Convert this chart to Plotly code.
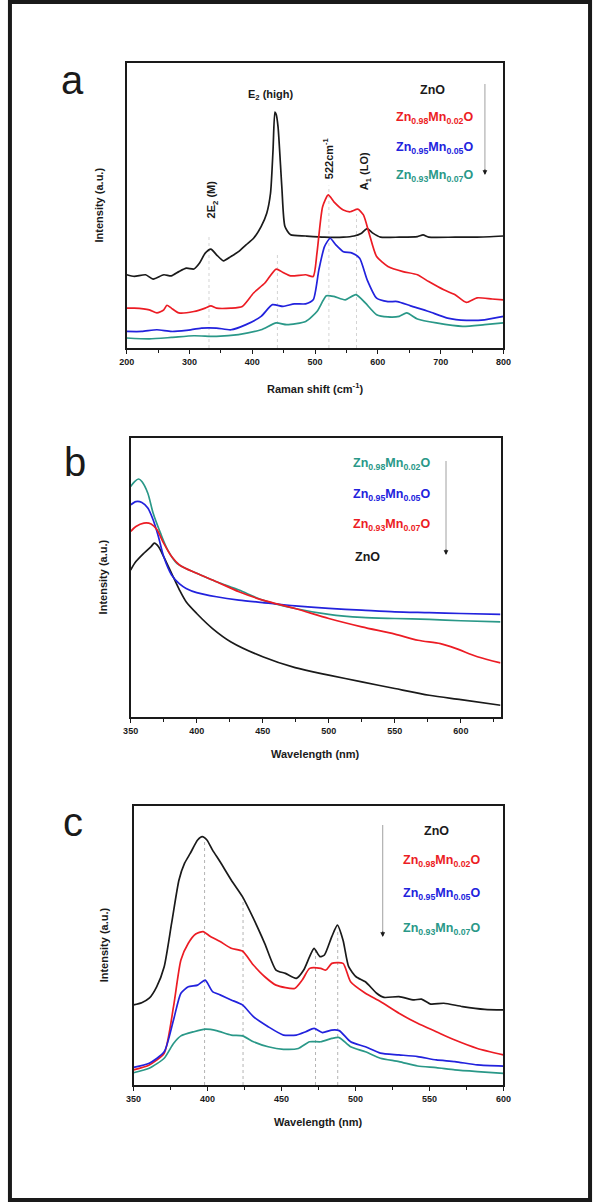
import plotly.graph_objects as go

W, H = 600, 1202

# ---------------- Panel a: Raman ----------------
raman_x_zno = [200, 212, 230, 242, 259, 271, 283, 295, 307, 316, 325, 334, 343, 354, 366, 378, 390, 402, 414, 423, 429, 433, 436, 438, 441, 447, 452, 461, 485, 515, 545, 562, 574, 583, 592, 604, 634, 663, 672, 681, 723, 758, 800]
raman_y_zno = [25.7, 25.1, 25.7, 24.2, 25.7, 25.3, 26.8, 28.0, 27.7, 29.8, 33.3, 34.7, 32.7, 30.6, 32.1, 33.8, 36.2, 38.5, 42.6, 47.3, 54.3, 69.4, 82.8, 82.0, 77.6, 56.6, 42.6, 39.7, 39.3, 38.9, 38.9, 39.3, 40.3, 41.9, 40.3, 38.9, 38.9, 39.1, 39.7, 38.9, 38.9, 38.9, 39.3]
raman_x_mn02 = [200, 212, 236, 248, 259, 264, 271, 283, 307, 325, 334, 343, 366, 384, 402, 420, 438, 449, 461, 485, 497, 503, 512, 521, 530, 545, 556, 568, 577, 586, 598, 616, 640, 663, 681, 705, 723, 741, 758, 782, 800]
raman_y_mn02 = [14.0, 14.0, 13.4, 12.3, 13.4, 15.0, 14.0, 12.3, 12.8, 14.0, 14.8, 14.0, 14.0, 14.6, 19.3, 22.8, 27.7, 26.5, 25.3, 25.7, 25.1, 33.3, 49.6, 53.7, 51.3, 48.4, 47.8, 48.7, 46.7, 40.3, 32.1, 28.6, 26.8, 25.7, 23.3, 20.4, 18.7, 16.0, 17.6, 17.2, 16.9]
raman_x_mn05 = [200, 224, 248, 271, 295, 319, 343, 366, 390, 414, 432, 449, 467, 485, 497, 506, 515, 524, 533, 545, 559, 571, 583, 598, 616, 631, 652, 681, 711, 741, 770, 800]
raman_y_mn05 = [5.8, 5.8, 6.4, 5.8, 6.2, 7.0, 7.0, 6.4, 8.2, 11.1, 15.2, 14.6, 15.5, 15.5, 16.9, 27.4, 35.6, 38.5, 36.2, 33.8, 33.3, 31.5, 23.9, 17.5, 16.3, 16.3, 14.8, 12.8, 10.5, 9.7, 9.9, 11.1]
raman_x_mn07 = [200, 236, 271, 307, 343, 378, 414, 438, 455, 485, 503, 518, 530, 548, 565, 580, 598, 616, 634, 646, 663, 693, 735, 770, 800]
raman_y_mn07 = [3.5, 3.2, 3.7, 4.3, 4.1, 4.7, 6.4, 8.8, 8.2, 9.3, 12.8, 18.3, 18.1, 16.9, 18.7, 15.8, 11.7, 10.9, 11.1, 12.3, 10.2, 8.8, 7.6, 8.2, 8.8]
raman_lines_x = [331, 440, 522, 566]
raman_lines_top = [40, 33, 57, 47]

# ---------------- Panel b: absorption ----------------
abs_x = [350, 354, 360, 365.5, 368, 371, 375, 381, 387, 392, 400, 412, 426, 450, 474.5, 500, 525, 550, 576, 600, 630]
abs_y_zno = [52.7, 55.7, 58.7, 61.1, 62.3, 61.1, 57.5, 51.5, 45.5, 41.3, 37.1, 31.7, 26.9, 21.6, 17.7, 15.0, 12.6, 10.2, 7.8, 6.2, 4.2]
abs_x_mn02 = [350, 353, 356, 358.5, 363, 367, 372.6, 378, 385, 400, 415, 432, 450, 474.5, 500, 525, 550, 576, 600, 630]
abs_y_mn02 = [82.6, 84.4, 85.3, 84.4, 80.2, 73.1, 65.9, 59.9, 55.1, 51.5, 48.5, 45.5, 41.9, 38.9, 36.8, 35.7, 35.3, 35.0, 34.5, 34.1]
abs_x_mn05 = [350, 354, 358.5, 363, 367, 371, 375, 381, 387, 392, 400, 415, 432, 450, 474.5, 500, 525, 550, 576, 600, 630]
abs_y_mn05 = [76.0, 77.2, 76.9, 74.9, 70.7, 64.7, 57.5, 50.9, 47.7, 46.1, 44.6, 43.1, 41.9, 41.0, 39.8, 38.9, 38.3, 37.7, 37.4, 37.1, 36.8]
abs_x_mn07 = [350, 354, 360, 365.5, 370, 375, 381, 387, 400, 415, 432, 450, 474.5, 500, 525, 550, 567.5, 584.5, 596, 612.5, 630]
abs_y_mn07 = [66.5, 68.3, 69.5, 69.2, 67.1, 62.3, 57.5, 54.5, 51.5, 48.5, 44.9, 41.9, 38.9, 35.3, 32.3, 29.7, 27.5, 26.3, 24.6, 21.6, 19.4]

# ---------------- Panel c: PL ----------------
pl_x_zno = [350, 355.5, 360.6, 365.6, 370.7, 375.7, 380.7, 384.5, 388.3, 393.3, 396.4, 399.6, 403.4, 408.5, 416, 423.6, 431, 438.7, 446.3, 452.6, 460, 465, 469, 472, 476, 479, 484, 487.8, 491.6, 495.4, 500.4, 506.7, 514.3, 519.3, 529.4, 539.5, 544.6, 550.9, 559.7, 572.3, 587.4, 600]
pl_y_zno = [28.7, 29.5, 31.1, 35.2, 42.4, 57.9, 73.5, 79.5, 83.0, 87.8, 89.0, 87.8, 84.2, 80.0, 73.5, 67.5, 59.7, 50.7, 41.2, 40.0, 38.2, 41.2, 46.0, 49.0, 46.0, 46.6, 53.2, 57.3, 51.9, 42.4, 38.8, 37.0, 32.9, 31.4, 31.7, 30.5, 30.8, 29.0, 29.3, 28.1, 27.1, 26.9]
pl_x_mn02 = [350, 360.6, 370.7, 377, 382, 387, 392, 397, 402, 408.5, 416, 423.6, 431, 438.7, 446.3, 458.9, 464, 469, 476.5, 480, 484, 491.6, 496.7, 506.7, 516.8, 529.4, 542, 554.6, 567.2, 582.4, 600]
pl_y_mn02 = [5.4, 7.2, 11.4, 28.1, 44.8, 50.8, 54.1, 55.0, 53.2, 51.4, 49.0, 48.0, 43.0, 38.8, 35.8, 34.6, 37.6, 41.8, 41.8, 41.2, 43.6, 43.6, 37.0, 32.9, 29.9, 25.7, 22.1, 19.1, 16.1, 13.1, 10.8]
pl_x_mn05 = [350, 360.6, 370.7, 377, 382, 387, 393.3, 398.4, 403.4, 408.5, 416, 423.6, 431, 441, 451.3, 460, 466.4, 472, 477.7, 484, 489, 496.7, 506.7, 516.8, 529.4, 542, 554.6, 567.2, 582.4, 600]
pl_y_mn05 = [6.3, 7.8, 11.9, 23.3, 32.9, 35.2, 35.8, 37.6, 33.5, 32.3, 30.5, 28.7, 24.5, 20.9, 17.9, 17.9, 19.1, 20.3, 18.8, 19.7, 19.5, 15.5, 13.7, 11.4, 10.8, 10.2, 9.0, 8.4, 7.2, 6.8]
pl_x_mn07 = [350, 360.6, 370.7, 377, 382, 390.8, 398.4, 406, 416, 423.6, 431, 441, 451.3, 461.4, 469, 476.5, 484, 489, 496.7, 506.7, 516.8, 529.4, 542, 554.6, 567.2, 582.4, 600]
pl_y_mn07 = [4.4, 6.0, 9.6, 14.9, 17.6, 19.1, 20.0, 19.5, 17.9, 17.6, 15.5, 13.7, 12.8, 13.1, 15.5, 15.5, 16.7, 17.0, 13.7, 11.9, 9.6, 8.4, 6.8, 6.2, 5.4, 4.8, 4.2]
pl_lines_x = [398, 424, 473, 488]
pl_lines_top = [88, 67, 48, 56]

BLACK = "#1a1a1a"
RED = "#ec1c24"
BLUE = "#2222dd"
TEAL = "#2a9888"

LBL_ZNO = "<b>ZnO</b>"
LBL_02 = "<b>Zn<sub>0.98</sub>Mn<sub>0.02</sub>O</b>"
LBL_05 = "<b>Zn<sub>0.95</sub>Mn<sub>0.05</sub>O</b>"
LBL_07 = "<b>Zn<sub>0.93</sub>Mn<sub>0.07</sub>O</b>"


def px(x):
    return x / W


def py(y):
    return 1 - y / H


fig = go.Figure()
LW = 1.7

for xs, ys, c in [(raman_x_zno, raman_y_zno, BLACK), (raman_x_mn02, raman_y_mn02, RED),
                  (raman_x_mn05, raman_y_mn05, BLUE), (raman_x_mn07, raman_y_mn07, TEAL)]:
    fig.add_trace(go.Scatter(x=xs, y=ys, mode="lines", line=dict(color=c, width=LW, shape="spline", smoothing=0.6),
                             xaxis="x", yaxis="y", showlegend=False))
for xs, ys, c in [(abs_x, abs_y_zno, BLACK), (abs_x_mn02, abs_y_mn02, TEAL),
                  (abs_x_mn05, abs_y_mn05, BLUE), (abs_x_mn07, abs_y_mn07, RED)]:
    fig.add_trace(go.Scatter(x=xs, y=ys, mode="lines", line=dict(color=c, width=LW, shape="spline", smoothing=0.8),
                             xaxis="x2", yaxis="y2", showlegend=False))
for xs, ys, c in [(pl_x_zno, pl_y_zno, BLACK), (pl_x_mn02, pl_y_mn02, RED),
                  (pl_x_mn05, pl_y_mn05, BLUE), (pl_x_mn07, pl_y_mn07, TEAL)]:
    fig.add_trace(go.Scatter(x=xs, y=ys, mode="lines", line=dict(color=c, width=LW, shape="spline", smoothing=0.6),
                             xaxis="x3", yaxis="y3", showlegend=False))

shapes = []
for xv, top in zip(raman_lines_x, raman_lines_top):
    shapes.append(dict(type="line", xref="x", yref="y", x0=xv, x1=xv, y0=0, y1=top,
                       line=dict(color="#d4d4d4", width=1, dash="dot"), layer="below"))
for xv, top in zip(pl_lines_x, pl_lines_top):
    shapes.append(dict(type="line", xref="x3", yref="y3", x0=xv, x1=xv, y0=0, y1=top,
                       line=dict(color="#b4b4b4", width=1, dash="dot"), layer="below"))

# grey arrows (legend order)
arrows = [(490, 84, 175), (450, 461, 555), (385, 825, 937)]
anns = []
for ax_, y0, y1 in arrows:
    shapes.append(dict(type="line", xref="paper", yref="paper", x0=px(ax_), x1=px(ax_), y0=py(y0), y1=py(y1 - 3),
                       line=dict(color="#a0a0a0", width=1)))
    anns.append(dict(xref="paper", yref="paper", x=px(ax_), y=py(y1), ax=0, ay=-7, text="", showarrow=True,
                     arrowhead=2, arrowsize=0.8, arrowwidth=1.2, arrowcolor=BLACK))

# outer frame
shapes.append(dict(type="rect", xref="paper", yref="paper", x0=px(2), x1=px(598), y0=py(2), y1=py(1200),
                   line=dict(color="#1a1a1a", width=4)))

FONT = "Liberation Sans, Arial, sans-serif"

def txt(x, y, t, size=12, color=BLACK, xa="center", angle=0):
    anns.append(dict(xref="paper", yref="paper", x=px(x), y=py(y), text=t, showarrow=False,
                     font=dict(family=FONT, size=size, color=color), xanchor=xa, yanchor="middle", textangle=angle))

# panel letters
txt(66, 80, "a", 40)
txt(69, 462, "b", 40)
txt(67, 822, "c", 40)

# panel a annotations
txt(270, 95, "<b>E<sub>2</sub> (high)</b>", 11)
txt(210, 199, "<b>2E<sub>2</sub> (M)</b>", 11, angle=-90)
txt(329, 158, "<b>522cm<sup>-1</sup></b>", 11, angle=-90)
txt(367, 171, "<b>A<sub>1</sub> (LO)</b>", 11, angle=-90)

# legends
txt(436, 90, LBL_ZNO, 12.5)
txt(438, 118, LBL_02, 12.5, RED)
txt(438, 148, LBL_05, 12.5, BLUE)
txt(438, 176, LBL_07, 12.5, TEAL)

txt(352, 464, LBL_02, 12.5, TEAL, xa="left")
txt(352, 495, LBL_05, 12.5, BLUE, xa="left")
txt(352, 525, LBL_07, 12.5, RED, xa="left")
txt(354, 557, LBL_ZNO, 12.5, BLACK, xa="left")

txt(440, 831, LBL_ZNO, 12.5)
txt(445, 861, LBL_02, 12.5, RED)
txt(445, 894, LBL_05, 12.5, BLUE)
txt(445, 929, LBL_07, 12.5, TEAL)

# y-axis titles
txt(94, 205, "<b>Intensity (a.u.)</b>", 11, angle=-90)
txt(98, 577, "<b>Intensity (a.u.)</b>", 11, angle=-90)
txt(99, 945, "<b>Intensity (a.u.)</b>", 11, angle=-90)
# x-axis titles
txt(315, 388, "<b>Raman shift (cm<sup>-1</sup>)</b>", 11)
txt(316, 754, "<b>Wavelength (nm)</b>", 11)
txt(319, 1122, "<b>Wavelength (nm)</b>", 11)


def xax(dom, rng, dtick, minor, anchor):
    return dict(domain=dom, range=rng, dtick=dtick, tick0=rng[0], showline=True, linecolor=BLACK, linewidth=1.5,
                mirror=True, ticks="outside", ticklen=4, tickwidth=1, tickcolor=BLACK, showgrid=False,
                zeroline=False, anchor=anchor,
                tickfont=dict(family=FONT, size=9, color=BLACK, weight="bold"),
                minor=dict(dtick=minor, ticks="outside", ticklen=3, tickcolor=BLACK, showgrid=False))


def yax(dom, rng, anchor):
    return dict(domain=dom, range=rng, showline=True, linecolor=BLACK, linewidth=1.5, mirror=True,
                showticklabels=False, ticks="", showgrid=False, zeroline=False, anchor=anchor)


fig.update_layout(
    width=W, height=H, margin=dict(l=0, r=0, t=0, b=0),
    paper_bgcolor="white", plot_bgcolor="white",
    font=dict(family=FONT, color=BLACK),
    xaxis=xax([px(122), px(509)], [200, 800], 100, 50, "y"),
    yaxis=yax([py(348), py(63)], [0, 100], "x"),
    xaxis2=xax([px(126), px(506)], [350, 630], 50, 25, "y2"),
    yaxis2=yax([py(717), py(438)], [0, 100], "x2"),
    xaxis3=xax([px(129), px(509)], [350, 600], 50, 25, "y3"),
    yaxis3=yax([py(1085), py(806)], [0, 100], "x3"),
    shapes=shapes, annotations=anns,
)

fig.write_html("out.html", config={"displayModeBar": False},
               post_script="document.body.style.margin='0';document.body.style.overflow='hidden';")
